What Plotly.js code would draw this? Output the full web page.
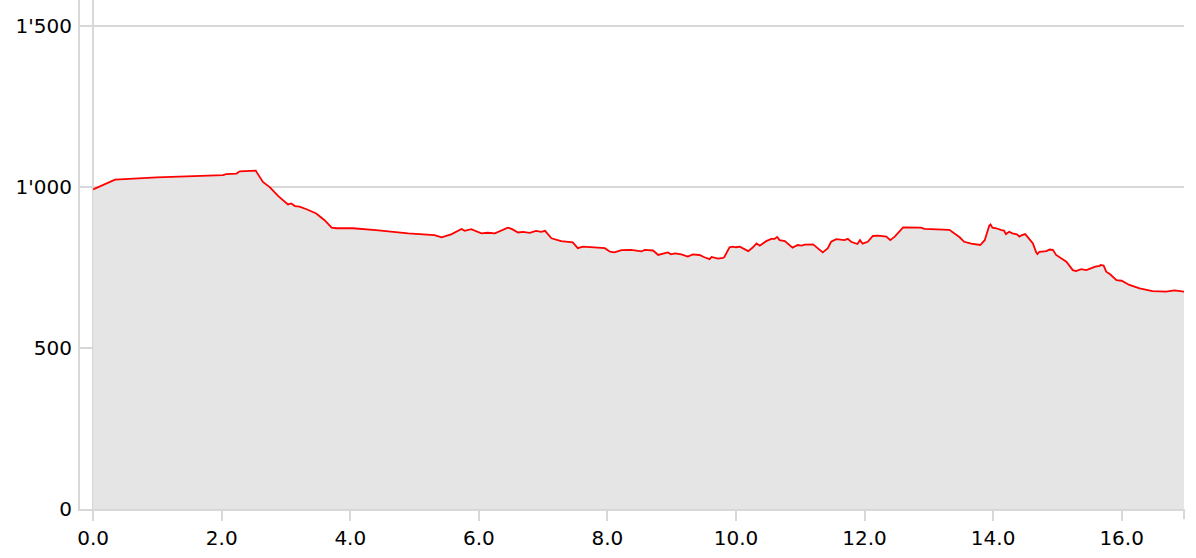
<!DOCTYPE html>
<html>
<head>
<meta charset="utf-8">
<script src="https://cdn.plot.ly/plotly-3.0.1.min.js"></script>
<style>html,body{margin:0;padding:0;background:#fff;}#chart{width:1196px;height:558px;}</style>
</head>
<body>
<div id="chart"></div>
<script>
const distance = [0.00,0.34,0.99,2.02,2.07,2.23,2.28,2.53,2.54,2.64,2.75,2.88,3.03,3.08,3.14,3.21,3.32,3.47,3.60,3.71,3.78,4.04,4.40,4.90,5.31,5.42,5.57,5.73,5.78,5.88,6.04,6.14,6.25,6.35,6.45,6.51,6.61,6.69,6.79,6.89,6.97,7.03,7.13,7.28,7.46,7.54,7.62,7.96,8.04,8.11,8.22,8.37,8.47,8.53,8.58,8.71,8.79,8.94,8.99,9.05,9.15,9.25,9.33,9.43,9.51,9.59,9.62,9.72,9.80,9.82,9.90,9.95,10.00,10.06,10.19,10.26,10.32,10.37,10.47,10.55,10.60,10.64,10.68,10.76,10.88,10.96,11.02,11.07,11.20,11.35,11.43,11.48,11.56,11.69,11.74,11.79,11.89,11.93,11.97,12.05,12.13,12.21,12.34,12.40,12.47,12.60,12.88,12.93,13.32,13.40,13.48,13.55,13.66,13.80,13.87,13.94,13.96,13.99,14.05,14.13,14.17,14.20,14.25,14.30,14.37,14.41,14.45,14.50,14.55,14.62,14.67,14.69,14.72,14.83,14.88,14.93,14.98,15.14,15.24,15.29,15.37,15.45,15.53,15.59,15.66,15.67,15.72,15.76,15.82,15.92,16.00,16.12,16.28,16.48,16.69,16.82,16.97];
const elevation = [993,1023,1030,1037,1040,1042,1049,1051,1047,1016,999,972,946,949,941,939,931,918,897,874,872,872,866,856,851,844,853,870,864,869,856,858,856,866,874,870,859,861,858,864,861,864,841,832,828,810,815,810,799,797,804,805,802,800,805,803,789,797,791,794,791,784,791,789,782,776,783,778,780,783,813,815,813,815,801,812,825,818,832,839,839,845,835,832,812,820,818,821,822,797,810,830,838,835,839,830,823,835,824,830,848,849,846,835,846,875,874,870,867,856,844,830,824,820,835,880,884,874,872,866,865,854,861,856,853,846,851,854,843,825,797,792,799,801,806,805,789,768,742,739,745,742,748,753,755,758,756,737,729,711,709,696,685,677,675,679,675];
const xTickVals = [0,2,4,6,8,10,12,14,16];
const yTickVals = [0,500,1000,1500];

const gridColor = '#d8d8d8';
const trace = {
  x: distance, y: elevation, type: 'scatter', mode: 'lines',
  fill: 'tozeroy', fillcolor: '#e5e5e5',
  line: {color: '#ff0000', width: 1.8},
  hoverinfo: 'skip'
};
const layout = {
  width: 1196, height: 558,
  margin: {l: 80, r: 12, t: 0, b: 49, pad: 0},
  paper_bgcolor: '#ffffff', plot_bgcolor: '#ffffff',
  separators: ".'",
  showlegend: false,
  font: {family: 'DejaVu Sans', size: 20, color: '#000000'},
  xaxis: {
    range: [-0.205, 16.97], tickvals: xTickVals, tickformat: '.1f',
    showgrid: false, zeroline: true, zerolinecolor: gridColor, zerolinewidth: 2,
    showline: true, linecolor: gridColor, linewidth: 2,
    ticks: 'outside', ticklen: 10, tickwidth: 2, tickcolor: gridColor,
    tickfont: {family: 'DejaVu Sans', size: 20, color: '#000'}
  },
  yaxis: {
    range: [0, 1581], tickvals: yTickVals, tickformat: ',.0f',
    showgrid: true, gridcolor: gridColor, gridwidth: 2,
    zeroline: false, showline: true, linecolor: gridColor, linewidth: 2,
    ticks: '', ticklabelstandoff: 2,
    tickfont: {family: 'DejaVu Sans', size: 20, color: '#000'}
  },
  shapes: [
    {type: 'line', xref: 'paper', yref: 'paper', x0: 1, x1: 1, y0: 0, y1: -0.02, line: {color: gridColor, width: 2}}
  ]
};
Plotly.newPlot('chart', [trace], layout, {displayModeBar: false, staticPlot: true});
</script>
</body>
</html>
